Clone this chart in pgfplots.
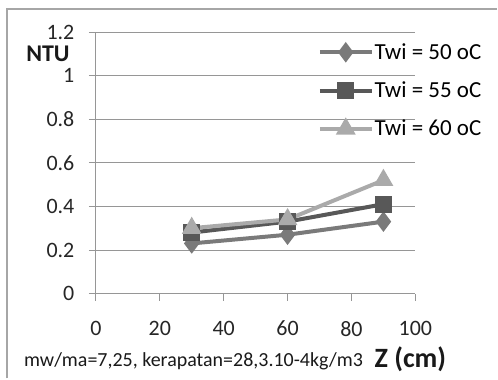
\documentclass[border=0pt]{standalone}
\usepackage{pgfplots}
\pgfplotsset{compat=1.18}
\usepackage{fontspec}
\setmainfont{Carlito}
\definecolor{cA}{RGB}{122,122,122}
\definecolor{cB}{RGB}{88,88,88}
\definecolor{cC}{RGB}{170,170,170}
\definecolor{gridc}{RGB}{150,150,150}
\begin{document}
\begin{tikzpicture}[x=1bp,y=1bp]
\path (0,0) rectangle (498,-379);
\draw[gray!70, line width=1.5bp] (7,-379) -- (7,-9) -- (498,-9);
\begin{axis}[
  at={(96bp,-294bp)}, anchor=south west,
  scale only axis, width=320bp, height=262bp,
  xmin=0, xmax=100, ymin=0, ymax=1.2,
  xtick={0,20,...,100}, ytick={0,0.2,...,1.2},
  yticklabels={0,0.2,0.4,0.6,0.8,1,1.2},
  axis lines=left, axis line style={-, gridc, line width=0.8bp},
  ymajorgrids, major grid style={gridc, line width=0.8bp},
  tick style={gridc, line width=0.8bp},
  tick align=outside, major tick length=7bp,
  /pgf/number format/assume math mode=true,
  ticklabel style={font=\fontsize{22bp}{24bp}\selectfont, text=black!85},
  xticklabel style={yshift=-17bp},
  yticklabel style={xshift=-11bp},
  legend style={draw=none, fill=none, at={(0.694,0.96)}, anchor=north west,
    font=\fontsize{23bp}{25bp}\selectfont, row sep=19bp, inner sep=0pt,
    nodes={inner sep=1bp}},
  legend cell align=left,
  legend image code/.code={\draw[mark repeat=2,mark phase=2] plot coordinates {(0bp,0bp) (26bp,0bp) (52bp,0bp)};},
  clip=false,
]
\addplot[cA, line width=4bp, mark=diamond*, mark size=7bp, mark options={solid}] coordinates {(30,0.23) (60,0.27) (90,0.33)};
\addlegendentry{Twi = 50 oC}
\addplot[cB, line width=4bp, mark=square*, mark size=6.5bp] coordinates {(30,0.28) (60,0.33) (90,0.41)};
\addlegendentry{Twi = 55 oC}
\addplot[cC, line width=4bp, mark=triangle*, mark size=7.5bp] coordinates {(30,0.30) (60,0.34) (90,0.52)};
\addlegendentry{Twi = 60 oC}
\end{axis}
\node[font=\bfseries\fontsize{24bp}{26bp}\selectfont, anchor=center, text=black!90, inner sep=0] at (48,-54) {NTU};
\node[font=\fontsize{20bp}{22bp}\selectfont, anchor=west, inner sep=0, text=black!90] at (24,-362) {mw/ma=7,25, kerapatan=28,3.10-4kg/m3};
\node[font=\bfseries\fontsize{28bp}{30bp}\selectfont, anchor=west, inner sep=0, text=black!90] at (375,-360) {Z (cm)};
\end{tikzpicture}
\end{document}
